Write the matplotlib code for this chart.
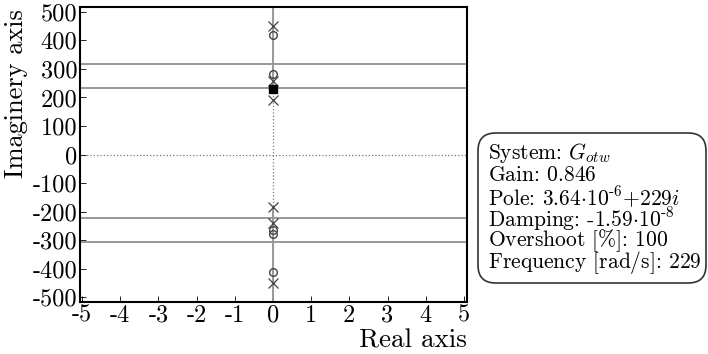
import matplotlib
matplotlib.use("Agg")
import matplotlib.pyplot as plt
from matplotlib.patches import FancyBboxPatch

plt.rcParams['font.family'] = ['cmr10']
plt.rcParams['mathtext.fontset'] = 'cm'
plt.rcParams['axes.formatter.use_mathtext'] = True
plt.rcParams['axes.unicode_minus'] = False

# root locus data (imaginary parts, real parts are all ~0)
pole_im = [451, 258, 191, -184, -241, -451]
zero_im = [419, 282, -266, -280, -412]
branch_im = [317, 233, -223, -307]
locus_segments = [(520, 230), (-186, -520)]
selected_pole = (0.0, 229)

xticks = [-5, -4, -3, -2, -1, 0, 1, 2, 3, 4, 5]
yticks = [500, 400, 300, 200, 100, 0, -100, -200, -300, -400, -500]

info_lines = [
    r"System: $G_{otw}$",
    r"Gain: $0.846$",
    r"Pole: $3.64{\cdot}10^{\text{-}6}{+}229i$",
    r"Damping: -$1.59{\cdot}10^{\text{-}8}$",
    r"Overshoot [%]: $100$",
    r"Frequency [rad/s]: $229$",
]

W, H = 708, 354
fig = plt.figure(figsize=(W / 100, H / 100), dpi=100)
ax = fig.add_axes([80 / W, 52 / H, 387 / W, 295 / H])

ax.axhline(0, color='#777777', ls=':', lw=0.9, zorder=1)
ax.axvline(0, color='#777777', ls=':', lw=0.9, zorder=1)

for y in branch_im:
    ax.plot([-6, 6], [y, y], color='#999999', lw=1.4, zorder=2)
for y0, y1 in locus_segments:
    ax.plot([0, 0], [y0, y1], color='#999999', lw=1.4, zorder=2)

ax.plot([0] * len(pole_im), pole_im, ls='none', marker='x', ms=6.5,
        mew=0.9, color='#444444', zorder=3)
ax.plot([0] * len(zero_im), zero_im, ls='none', marker='o', ms=5.5,
        mfc='none', mew=1.0, color='#444444', zorder=3)
ax.plot([selected_pole[0]], [selected_pole[1]], ls='none', marker='s',
        ms=6, color='black', zorder=4)

ax.set_xlim(-5.05, 5.08)
ax.set_ylim(-517, 517)
ax.set_xticks(xticks)
ax.set_xticklabels([str(v) for v in xticks])
ax.set_yticks(yticks)
ax.set_yticklabels([str(v) for v in yticks])
ax.tick_params(direction='in', length=4, width=0.6, labelsize=17.5, pad=2)
for s in ax.spines.values():
    s.set_linewidth(1.5)

ax.set_ylabel("Imaginery axis", fontsize=19)
ax.yaxis.set_label_coords(-52 / 387, (302 - 94) / 295)
ax.set_xlabel("Real axis", fontsize=19.5)
ax.xaxis.set_label_coords(1.0, -0.09)
ax.xaxis.label.set_horizontalalignment('right')

# info box
box = FancyBboxPatch((478 / W, 1 - 283 / H), 228 / W, 150 / H,
                     boxstyle='round,pad=0,rounding_size=0.025',
                     transform=fig.transFigure, fc='white', ec='#333333',
                     lw=1.2, mutation_aspect=2.0)
fig.add_artist(box)
for i, line in enumerate(info_lines):
    fig.text(488 / W, 1 - (153 + 22 * i) / H, line, fontsize=15.5,
             va='center', ha='left')

fig.savefig("out.png", dpi=100)
